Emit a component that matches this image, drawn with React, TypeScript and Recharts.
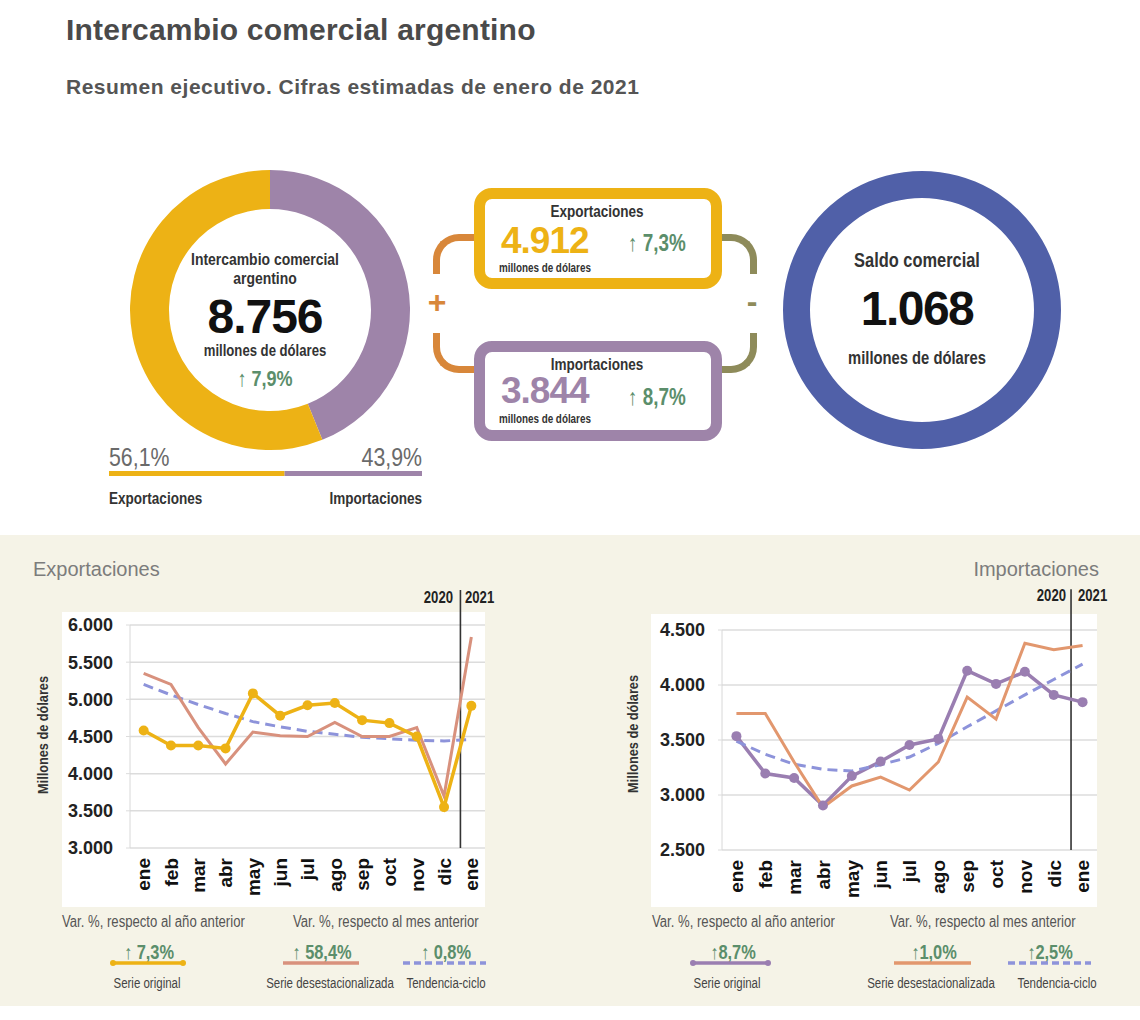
import React from 'react';
import {
  PieChart,
  Pie,
  Cell,
  BarChart,
  Bar,
  XAxis,
  YAxis,
  LineChart,
  Line,
  CartesianGrid,
  ReferenceLine,
} from 'recharts';

// resumen
const shareNames = ['Importaciones', 'Exportaciones'];
const shareValues = [43.9, 56.1];
const totalExport = 4912;
const totalImport = 3844;
const totalTrade = 8756;

// series mensuales ene-2020 .. ene-2021
const months = ['ene', 'feb', 'mar', 'abr', 'may', 'jun', 'jul', 'ago', 'sep', 'oct', 'nov', 'dic', 'ene'];
const expOriginal = [4580, 4380, 4380, 4340, 5080, 4780, 4920, 4950, 4720, 4680, 4500, 3550, 4912];
const expDesest = [5350, 5200, 4620, 4130, 4560, 4510, 4500, 4690, 4500, 4500, 4620, 3700, 5840];
const expTendencia = [5200, 5060, 4930, 4810, 4700, 4630, 4570, 4530, 4490, 4470, 4450, 4440, 4460];
const impOriginal = [3535, 3195, 3155, 2905, 3172, 3305, 3455, 3510, 4130, 4010, 4120, 3910, 3844];
const impDesest = [3740, 3740, 3300, 2888, 3082, 3163, 3045, 3300, 3890, 3690, 4380, 4320, 4360];
const impTendencia = [3490, 3370, 3280, 3233, 3218, 3275, 3345, 3470, 3620, 3765, 3910, 4050, 4190];

const expTicks = [3000, 3500, 4000, 4500, 5000, 5500, 6000];
const impTicks = [2500, 3000, 3500, 4000, 4500];
const monthIdx = months.map((_, i) => i);

const SANS = "'Liberation Sans', Arial, sans-serif";
const NARROW_SCALE = 0.82;

const YELLOW = '#EDB215';
const PURPLE = '#9E84A9';
const BLUE = '#5060A8';
const GREEN = '#5B8E6B';
const SALMON = '#D8917D';
const IMP_ORANGE = '#E2976E';
const TREND = '#8D93DA';
const IMP_PURPLE = '#9A7EB1';
const BEIGE = '#F5F3E7';

const fmt = (v: number) => String(v).replace(/\B(?=(\d{3})+(?!\d))/g, '.');

type TProps = {
  x: number;
  y: number;
  align?: 'left' | 'center' | 'right';
  size: number;
  weight?: number;
  color?: string;
  wide?: boolean;
  spacing?: number;
  rotate?: boolean;
  lh?: number;
  children: React.ReactNode;
};

// texto posicionado por su centro vertical; por defecto condensado (no hay fuente narrow instalada)
function T({ x, y, align = 'left', size, weight = 400, color = '#333', wide, spacing = 0, rotate, lh = 1, children }: TProps) {
  const tx = align === 'center' ? '-50%' : align === 'right' ? '-100%' : '0';
  const origin = rotate || align === 'center' ? 'center center' : align === 'right' ? 'right center' : 'left center';
  const sx = wide ? 1 : NARROW_SCALE;
  return (
    <div
      style={{
        position: 'absolute',
        left: x,
        top: y,
        transformOrigin: origin,
        transform: `translate(${tx}, -50%)${rotate ? ' rotate(-90deg)' : ''} scaleX(${sx})`,
        fontSize: size,
        fontWeight: weight,
        color,
        fontFamily: SANS,
        letterSpacing: spacing,
        whiteSpace: 'nowrap',
        lineHeight: lh,
      }}
    >
      {children}
    </div>
  );
}

function Swatch({ x, y, w, color, dashed, dots }: { x: number; y: number; w: number; color: string; dashed?: boolean; dots?: boolean }) {
  return (
    <svg style={{ position: 'absolute', left: x, top: y - 6 }} width={w} height={12}>
      <line x1={3} x2={w - 3} y1={6} y2={6} stroke={color} strokeWidth={3.5} strokeDasharray={dashed ? '7 4' : undefined} />
      {dots && <circle cx={3} cy={6} r={3} fill={color} />}
      {dots && <circle cx={w - 3} cy={6} r={3} fill={color} />}
    </svg>
  );
}

function MonthTick({ x, y, payload }: any) {
  const ty = y + 2;
  return (
    <text
      x={x}
      y={ty}
      transform={`rotate(-90, ${x}, ${ty})`}
      textAnchor="end"
      dy="0.36em"
      fontFamily={SANS}
      fontWeight={700}
      fontSize={19}
      fill="#111"
    >
      {months[payload.value]}
    </text>
  );
}

type ChartProps = {
  left: number;
  width: number;
  top: number;
  marginTop: number;
  plotHeight: number;
  xHeight: number;
  yWidth: number;
  domain: [number, number];
  ticks: number[];
  lineTop: number;
  original: number[];
  desest: number[];
  tendencia: number[];
  origColor: string;
  desColor: string;
  importOrder?: boolean;
};

function TradeChart(p: ChartProps) {
  const data = months.map((m, i) => ({
    idx: i,
    mes: m,
    original: p.original[i],
    desest: p.desest[i],
    tendencia: p.tendencia[i],
  }));
  const orig = (
    <Line
      key="o"
      dataKey="original"
      stroke={p.origColor}
      strokeWidth={3.5}
      dot={{ r: 5, fill: p.origColor, stroke: p.origColor, strokeWidth: 0 }}
      isAnimationActive={false}
    />
  );
  const des = <Line key="d" dataKey="desest" stroke={p.desColor} strokeWidth={3} dot={false} isAnimationActive={false} />;
  const trend = (
    <Line key="t" dataKey="tendencia" stroke={TREND} strokeWidth={3} strokeDasharray="10 6" dot={false} isAnimationActive={false} />
  );
  return (
    <div style={{ position: 'absolute', left: p.left, top: p.top }}>
      <LineChart
        width={p.width}
        height={p.marginTop + p.plotHeight + p.xHeight}
        data={data}
        margin={{ top: p.marginTop, right: 0, bottom: 0, left: 0 }}
      >
        <CartesianGrid vertical={false} stroke="#dcdcdc" strokeWidth={1.5} />
        <XAxis
          type="number"
          dataKey="idx"
          domain={[-0.5, 12.5]}
          ticks={monthIdx}
          interval={0}
          tick={<MonthTick />}
          tickLine={false}
          axisLine={false}
          height={p.xHeight}
        />
        <YAxis
          domain={p.domain}
          ticks={p.ticks}
          tickFormatter={fmt}
          width={p.yWidth}
          tick={{ fontSize: 18, fontWeight: 700, fill: '#222', fontFamily: SANS }}
          axisLine={{ stroke: '#d8d8d8' }}
          tickLine={{ stroke: '#dcdcdc' }}
          tickSize={4}
          tickMargin={13}
        />
        <ReferenceLine
          segment={[
            { x: 11.6, y: p.domain[0] },
            { x: 11.6, y: p.lineTop },
          ]}
          ifOverflow="visible"
          stroke="#333"
          strokeWidth={1.6}
        />
        {p.importOrder ? [orig, trend, des] : [trend, des, orig]}
      </LineChart>
    </div>
  );
}

export default function App() {
  const shareData = shareNames.map((n, i) => ({ name: n, value: shareValues[i] }));
  const barData = [{ name: 'intercambio', exp: shareValues[1], imp: shareValues[0] }];
  const saldoData = [{ name: 'Saldo comercial', value: totalExport - totalImport }];

  return (
    <div style={{ position: 'absolute', left: 0, top: 0, width: 1140, height: 1020, background: '#fff', overflow: 'hidden' }}>
      <T x={66} y={30} size={30} weight={700} color="#4a4a4a" wide spacing={0.2}>
        Intercambio comercial argentino
      </T>
      <T x={66} y={86} size={21} weight={700} color="#555" wide spacing={0.5}>
        Resumen ejecutivo. Cifras estimadas de enero de 2021
      </T>

      {/* anillo intercambio */}
      <div style={{ position: 'absolute', left: 115, top: 155 }}>
        <PieChart width={300} height={300}>
          <Pie
            data={shareData}
            dataKey="value"
            cx={150}
            cy={150}
            innerRadius={101}
            outerRadius={140}
            startAngle={90}
            endAngle={-270}
            stroke="none"
            isAnimationActive={false}
          >
            <Cell fill={PURPLE} />
            <Cell fill={YELLOW} />
          </Pie>
        </PieChart>
      </div>
      <T x={265} y={259} align="center" size={17} weight={700}>Intercambio comercial</T>
      <T x={265} y={278} align="center" size={17} weight={700}>argentino</T>
      <T x={265} y={317} align="center" size={48} weight={700} color="#111" wide spacing={-1} lh={0.75}>
        {fmt(totalTrade)}
      </T>
      <T x={265} y={351} align="center" size={16} weight={700}>millones de dólares</T>
      <T x={265} y={379} align="center" size={22} weight={700} color={GREEN}>↑ 7,9%</T>

      <T x={109} y={457} size={26} color="#6a6a6a">56,1%</T>
      <T x={422} y={457} align="right" size={26} color="#6a6a6a">43,9%</T>
      <div style={{ position: 'absolute', left: 109, top: 471 }}>
        <BarChart width={313} height={5} data={barData} layout="vertical" margin={{ top: 0, right: 0, bottom: 0, left: 0 }} barCategoryGap={0}>
          <XAxis type="number" domain={[0, 100]} hide />
          <YAxis type="category" dataKey="name" hide />
          <Bar dataKey="exp" stackId="s" fill={YELLOW} isAnimationActive={false} />
          <Bar dataKey="imp" stackId="s" fill={PURPLE} isAnimationActive={false} />
        </BarChart>
      </div>
      <T x={109} y={498} size={16.5} weight={700}>Exportaciones</T>
      <T x={422} y={498} align="right" size={16.5} weight={700}>Importaciones</T>

      {/* corchetes */}
      <div style={{ position: 'absolute', left: 433, top: 234, width: 44, height: 40, borderLeft: '7px solid #D8873A', borderTop: '7px solid #D8873A', borderTopLeftRadius: 26, boxSizing: 'border-box' }} />
      <div style={{ position: 'absolute', left: 433, top: 333, width: 44, height: 40, borderLeft: '7px solid #D8873A', borderBottom: '7px solid #D8873A', borderBottomLeftRadius: 26, boxSizing: 'border-box' }} />
      <div style={{ position: 'absolute', left: 718, top: 234, width: 39, height: 40, borderRight: '7px solid #8E8B5A', borderTop: '7px solid #8E8B5A', borderTopRightRadius: 26, boxSizing: 'border-box' }} />
      <div style={{ position: 'absolute', left: 718, top: 333, width: 39, height: 40, borderRight: '7px solid #8E8B5A', borderBottom: '7px solid #8E8B5A', borderBottomRightRadius: 26, boxSizing: 'border-box' }} />
      <T x={437} y={302} align="center" size={32} weight={700} color="#D8873A" wide>+</T>
      <T x={752} y={301} align="center" size={32} weight={700} color="#8E8B5A" wide>-</T>

      {/* cajas */}
      <div style={{ position: 'absolute', left: 474, top: 188, width: 248, height: 101, border: `11px solid ${YELLOW}`, borderRadius: 18, background: '#fff', boxSizing: 'border-box' }} />
      <div style={{ position: 'absolute', left: 474, top: 341, width: 248, height: 100, border: `11px solid ${PURPLE}`, borderRadius: 18, background: '#fff', boxSizing: 'border-box' }} />
      <T x={597} y={211} align="center" size={16.5} weight={700}>Exportaciones</T>
      <T x={501} y={241} size={37} weight={700} color={YELLOW} wide spacing={-1} lh={0.75}>{fmt(totalExport)}</T>
      <T x={499} y={268} size={12} weight={700}>millones de dólares</T>
      <T x={628} y={243} size={23} weight={700} color={GREEN}>↑ 7,3%</T>
      <T x={597} y={364} align="center" size={16.5} weight={700}>Importaciones</T>
      <T x={501} y={391} size={37} weight={700} color={PURPLE} wide spacing={-1} lh={0.75}>{fmt(totalImport)}</T>
      <T x={499} y={419} size={12} weight={700}>millones de dólares</T>
      <T x={628} y={397} size={23} weight={700} color={GREEN}>↑ 8,7%</T>

      {/* saldo */}
      <div style={{ position: 'absolute', left: 767, top: 155 }}>
        <PieChart width={300} height={300}>
          <Pie
            data={saldoData}
            dataKey="value"
            cx={150}
            cy={150}
            innerRadius={112}
            outerRadius={139}
            startAngle={90}
            endAngle={-270}
            stroke="none"
            fill={BLUE}
            isAnimationActive={false}
          />
        </PieChart>
      </div>
      <T x={917} y={260} align="center" size={20} weight={700}>Saldo comercial</T>
      <T x={917} y={309} align="center" size={48} weight={700} color="#111" wide spacing={-1.5} lh={0.75}>
        {fmt(totalExport - totalImport)}
      </T>
      <T x={917} y={358} align="center" size={18} weight={700}>millones de dólares</T>

      {/* panel inferior */}
      <div style={{ position: 'absolute', left: 0, top: 535, width: 1140, height: 471, background: BEIGE }} />
      <div style={{ position: 'absolute', left: 62, top: 612, width: 423, height: 295, background: '#fff' }} />
      <div style={{ position: 'absolute', left: 651, top: 614, width: 446, height: 293, background: '#fff' }} />

      <T x={33} y={569} size={20} color="#7c7c7c" wide>Exportaciones</T>
      <T x={1099} y={569} align="right" size={20} color="#7c7c7c" wide>Importaciones</T>

      <TradeChart
        left={62}
        width={423}
        top={585}
        marginTop={40}
        plotHeight={223}
        xHeight={59}
        yWidth={68}
        domain={[3000, 6000]}
        ticks={expTicks}
        lineTop={6470}
        original={expOriginal}
        desest={expDesest}
        tendencia={expTendencia}
        origColor={YELLOW}
        desColor={SALMON}
      />
      <TradeChart
        left={651}
        width={446}
        top={585}
        marginTop={45}
        plotHeight={220}
        xHeight={57}
        yWidth={71}
        domain={[2500, 4500]}
        ticks={impTicks}
        lineTop={4870}
        original={impOriginal}
        desest={impDesest}
        tendencia={impTendencia}
        origColor={IMP_PURPLE}
        desColor={IMP_ORANGE}
        importOrder
      />

      <T x={453} y={598} align="right" size={16} weight={700} color="#222">2020</T>
      <T x={465} y={598} size={16} weight={700} color="#222">2021</T>
      <T x={1066} y={596} align="right" size={16} weight={700} color="#222">2020</T>
      <T x={1078} y={596} size={16} weight={700} color="#222">2021</T>

      <T x={43} y={735} align="center" size={15.5} weight={700} rotate>Millones de dólares</T>
      <T x={633} y={734} align="center" size={15.5} weight={700} rotate>Millones de dólares</T>

      {/* pie exportaciones */}
      <T x={62} y={922} size={16} color="#555">Var. %, respecto al año anterior</T>
      <T x={293} y={922} size={16} color="#555">Var. %, respecto al mes anterior</T>
      <T x={149} y={952} align="center" size={20} weight={700} color={GREEN}>↑ 7,3%</T>
      <T x={322} y={952} align="center" size={20} weight={700} color={GREEN}>↑ 58,4%</T>
      <T x={446} y={952} align="center" size={20} weight={700} color={GREEN}>↑ 0,8%</T>
      <Swatch x={110} y={963} w={76} color={YELLOW} dots />
      <Swatch x={280} y={963} w={82} color={SALMON} />
      <Swatch x={400} y={963} w={89} color={TREND} dashed />
      <T x={147} y={983} align="center" size={14} color="#444">Serie original</T>
      <T x={330} y={983} align="center" size={14} color="#444">Serie desestacionalizada</T>
      <T x={446} y={983} align="center" size={14} color="#444">Tendencia-ciclo</T>

      {/* pie importaciones */}
      <T x={652} y={922} size={16} color="#555">Var. %, respecto al año anterior</T>
      <T x={890} y={922} size={16} color="#555">Var. %, respecto al mes anterior</T>
      <T x={733} y={952} align="center" size={20} weight={700} color={GREEN}>↑8,7%</T>
      <T x={934} y={952} align="center" size={20} weight={700} color={GREEN}>↑1,0%</T>
      <T x={1050} y={952} align="center" size={20} weight={700} color={GREEN}>↑2,5%</T>
      <Swatch x={690} y={963} w={81} color={IMP_PURPLE} dots />
      <Swatch x={891} y={963} w={83} color={IMP_ORANGE} />
      <Swatch x={1005} y={963} w={89} color={TREND} dashed />
      <T x={727} y={983} align="center" size={14} color="#444">Serie original</T>
      <T x={931} y={983} align="center" size={14} color="#444">Serie desestacionalizada</T>
      <T x={1057} y={983} align="center" size={14} color="#444">Tendencia-ciclo</T>
    </div>
  );
}
